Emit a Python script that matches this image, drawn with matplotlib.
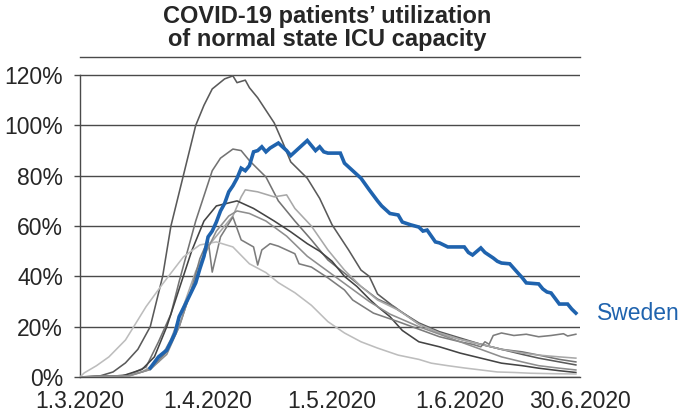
import numpy as np
import matplotlib
matplotlib.use('Agg')
import matplotlib.pyplot as plt

plt.rcParams['font.family'] = ['Liberation Sans', 'DejaVu Sans']

# Data (day 0 = 1.3.2020), values in percent of normal ICU capacity
sweden_days = [17, 19, 21, 22, 23, 24, 26, 28, 29, 30, 31, 32, 33, 34, 35, 36, 37, 38, 39, 40,
               41, 42, 43, 44, 45, 46, 48, 50, 51, 53, 55, 56, 57, 58, 59, 60, 61, 63, 64, 66,
               68, 70, 72, 73, 75, 77, 78, 80, 82, 83, 84, 86, 87, 89, 91, 93, 94, 95, 97, 98,
               100, 101, 102, 104, 106, 107, 108, 111, 112, 113, 114, 116, 118, 119, 120]
sweden_vals = [3.6, 8, 10.7, 14, 17.5, 24, 30.6, 37.4, 43, 48, 55.7, 58, 61.6, 66, 69, 73.6, 76, 79, 83, 82,
               84, 89.5, 90, 91.5, 89.5, 91, 93, 90, 88, 91, 94, 92, 90, 91.5, 89.5, 89, 89, 89, 85, 82,
               79, 74.4, 70, 68, 65, 64.4, 61.6, 60.5, 59.6, 58, 58.4, 53.7, 53.3, 51.7, 51.7, 51.7, 49.5, 48.5, 51.3, 49.5,
               47.3, 46, 45.3, 45, 41.3, 39.5, 37.4, 37, 35, 33.8, 33.4, 29, 29, 27, 25.4]

a_days = [0, 5, 8, 11, 14, 17, 20, 22, 25, 28, 30, 32, 35, 37, 38, 40, 41, 43, 45, 47, 49, 51, 55, 58, 61,
          65, 68, 70, 72, 77, 82, 87, 92, 97, 102, 107, 111, 116, 120]
a_vals = [0, 0.5, 2, 5.6, 11, 20, 40, 60, 80, 100, 108, 114.5, 118.5, 119.7, 117, 118, 115, 111, 106, 101, 93.5, 85.5, 79, 71, 60.5,
          50.5, 42.5, 40, 33, 26.6, 21.5, 18, 15.5, 13, 11, 9, 7.5, 6, 4.8]

b_days = [0, 8, 12, 16, 19, 22, 24, 26, 28, 30, 32, 34, 37, 39, 41, 45, 48, 52, 56, 60, 65, 68,
          72, 76, 82, 87, 92, 97, 102, 107, 111, 116, 120]
b_vals = [0, 0.3, 1, 4, 14, 25, 38, 50, 62, 72, 82, 87, 90.6, 90, 86, 79.5, 70, 62, 54.5, 46.5, 40, 36,
          31, 28, 21, 17.5, 15, 13, 11, 10, 8.7, 7, 6]

c_days = [0, 10, 15, 19, 22, 25, 28, 31, 34, 37, 39, 40, 43, 47, 50, 52, 56, 60, 64, 68, 72, 77,
          82, 87, 92, 97, 102, 107, 111, 116, 120]
c_vals = [0, 0.5, 2, 6, 15, 28, 42, 52, 58, 64, 71.6, 74.4, 73.6, 71.6, 72.4, 67, 60, 50.5, 42.5, 36, 30.6, 26.6,
          21, 17.5, 15, 13, 11, 9.5, 8.7, 8, 7.5]

d_days = [0, 10, 15, 18, 21, 24, 27, 30, 33, 38, 42, 47, 51, 55, 58, 61, 64, 67, 70, 72, 75, 78, 82,
          87, 92, 97, 102, 107, 111, 116, 120]
d_vals = [0, 0.3, 3, 8, 20, 35, 50, 62, 68, 70, 67, 62, 57.7, 53, 50, 46, 40, 36, 31, 28, 24, 18.5, 14,
          12, 9.5, 7.5, 5.5, 4.5, 3.5, 2.5, 1.8]

e_days = [0, 12, 17, 21, 24, 27, 29, 31, 32, 34, 37, 39, 42, 43, 44, 46, 48, 52, 53, 56, 60, 64,
          66, 71, 77, 82, 87, 92, 95, 97, 98, 99, 100, 102, 105, 108, 111, 114, 117, 118, 120]
e_vals = [0, 0.5, 3, 10, 20, 35, 47, 54.5, 41.7, 55.7, 63.6, 54.5, 51.7, 44.5, 50.5, 53, 52, 49, 45, 43.7, 39.4, 34.6,
          30.6, 25.4, 22, 19, 16, 14, 13, 12, 14, 13, 16.5, 17.5, 16.5, 17, 16, 16.5, 17.2, 16.3, 17]

f_days = [0, 1, 4, 7, 11, 13, 16, 20, 25, 29, 33, 37, 41, 45, 48, 52, 56, 60, 64, 68, 72, 77,
          82, 85, 89, 93, 97, 101, 105, 109, 115, 120]
f_vals = [0, 1.6, 4.5, 8, 14.7, 20, 28, 37, 47.7, 52.5, 53.7, 51.7, 45, 41.5, 37.5, 33.5, 28.5, 22, 17.5, 14, 11.5, 8.7,
          7, 5.5, 4.5, 3.6, 2.8, 2, 1.8, 1.5, 1.3, 1.2]

g_days = [0, 12, 17, 21, 24, 27, 30, 33, 36, 38, 41, 45, 50, 55, 60, 65, 70, 75, 82, 87, 92, 97,
          102, 107, 111, 116, 120]
g_vals = [0, 0.5, 3, 9, 20, 35, 48, 58, 64, 66, 65, 62, 56, 48, 42, 36, 30, 25, 20, 17, 14, 11,
          8, 6, 4.5, 3.5, 2.8]

tick_dates = ['2020-03-01', '2020-04-01', '2020-05-01', '2020-06-01', '2020-06-30']
tick_labels = ['1.3.2020', '1.4.2020', '1.5.2020', '1.6.2020', '30.6.2020']
y_ticks = [0, 20, 40, 60, 80, 100, 120]

grid_col = '#4a4a4a'
text_col = '#262626'
blue = '#1f63ae'

start = np.datetime64('2020-03-01')
tick_pos = [(np.datetime64(d) - start).astype(int) for d in tick_dates]

fig = plt.figure(figsize=(6.85, 4.13), dpi=100)
ax = fig.add_axes([80 / 685, 36 / 413, 500 / 685, 320 / 413])

others = [
    (a_days, a_vals, '#5a5a5a'),
    (b_days, b_vals, '#737373'),
    (c_days, c_vals, '#a8a8a8'),
    (d_days, d_vals, '#444444'),
    (e_days, e_vals, '#7c7c7c'),
    (f_days, f_vals, '#bdbdbd'),
    (g_days, g_vals, '#8e8e8e'),
]
for days, vals, col in others:
    ax.plot(days, np.array(vals) / 100, color=col, lw=1.15, zorder=3,
            solid_joinstyle='round')

ax.plot(sweden_days, np.array(sweden_vals) / 100, color=blue, lw=2.6, zorder=4,
        solid_joinstyle='miter')
ax.text(125, 0.252, 'Sweden', color=blue, fontsize=16.5, va='center', ha='left')

ax.set_xlim(0, 121)
ax.set_ylim(0, 1.272)
ax.set_xticks(tick_pos)
ax.set_xticklabels(tick_labels)
ax.set_yticks(np.array(y_ticks) / 100)
ax.set_yticklabels([f'{v}%' for v in y_ticks])
ax.tick_params(axis='x', length=0, pad=9, labelsize=16.5, labelcolor=text_col)
ax.tick_params(axis='y', length=4.3, width=1, color=grid_col, pad=8,
               labelsize=16.5, labelcolor=text_col)

ax.grid(axis='y', color=grid_col, lw=1, zorder=1)
ax.spines['right'].set_visible(False)
ax.spines['left'].set_bounds(0, 1.2)
for side in ['left', 'bottom', 'top']:
    ax.spines[side].set_color(grid_col)
    ax.spines[side].set_linewidth(1)

fig.text(327 / 685, 1 - 28 / 413, 'COVID-19 patients\u2019 utilization\nof normal state ICU capacity',
         ha='center', va='center', fontsize=17, fontweight='bold', color=text_col,
         linespacing=1.0)

fig.savefig('out.png', dpi=100)
